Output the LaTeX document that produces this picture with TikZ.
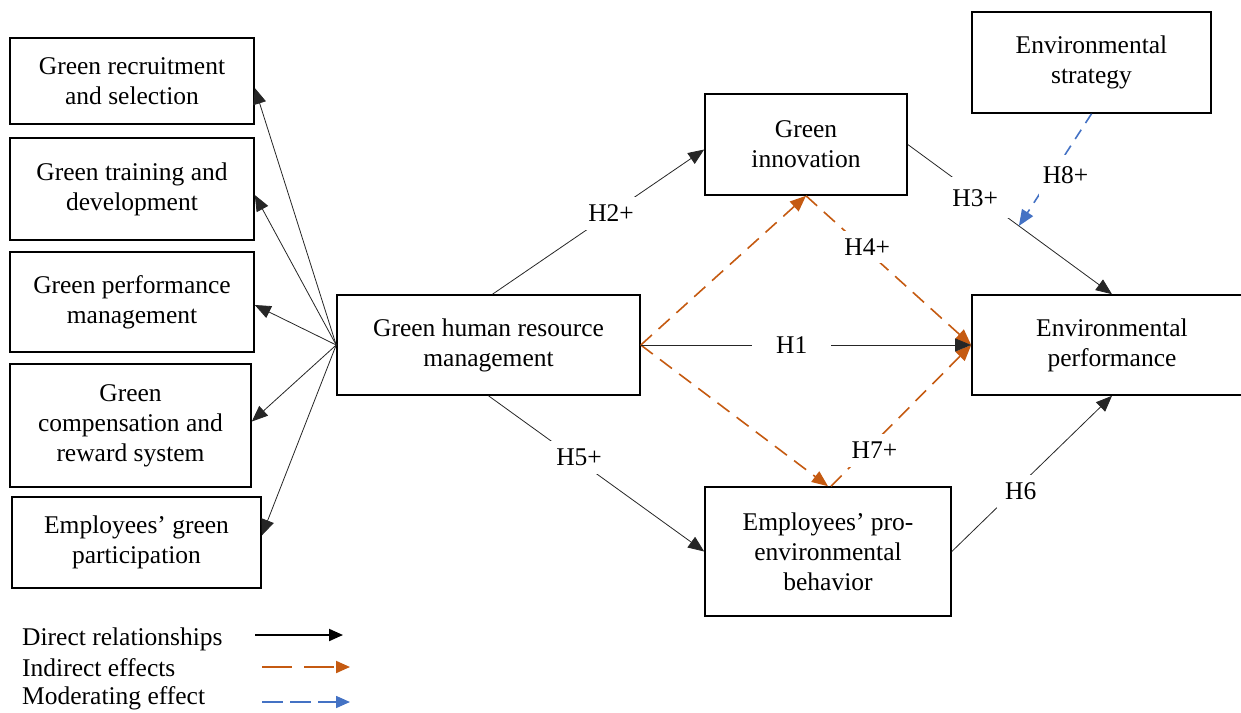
\documentclass[tikz,border=0pt]{standalone}
\usepackage{fontspec}
\setmainfont{Liberation Serif}
\usetikzlibrary{arrows.meta,calc}
\definecolor{orng}{HTML}{C55A11}
\definecolor{blu}{HTML}{4472C4}
\begin{document}
\begin{tikzpicture}[x=1pt,y=-1pt,
  font=\fontsize{25.5}{30}\selectfont,
  box/.style={draw,line width=1.6pt,align=center,inner sep=0pt},
  dirarr/.style={line width=0.8pt,draw=black!85,-{Triangle[length=16pt,width=13pt]}},
  indarr/.style={line width=1.6pt,draw=orng,dash pattern=on 15pt off 9pt,-{Triangle[length=16pt,width=13pt]}},
  modarr/.style={line width=1.6pt,draw=blu,dash pattern=on 11pt off 8pt,-{Triangle[length=16pt,width=13pt]}},
  lbl/.style={fill=white,inner xsep=8pt,inner ysep=8pt}]
\useasboundingbox (0,0) rectangle (1241,712);

% boxes
\node[box,minimum width=244pt,minimum height=86pt] (b1) at (132,81) {Green recruitment\\and selection};
\node[box,minimum width=244pt,minimum height=102pt] (b2) at (132,189) {Green training and\\development};
\node[box,minimum width=244pt,minimum height=100pt] (b3) at (132,302) {Green performance\\management};
\node[box,minimum width=241pt,minimum height=123pt] (b4) at (130.5,425.5) {Green\\compensation and\\reward system};
\node[box,minimum width=249pt,minimum height=91pt] (b5) at (136.5,542.5) {Employees’ green\\participation};
\node[box,minimum width=303pt,minimum height=100pt] (gh) at (488.5,345) {Green human resource\\management};
\node[box,minimum width=202pt,minimum height=101pt] (gi) at (806,144.5) {Green\\innovation};
\node[box,minimum width=239pt,minimum height=101pt] (es) at (1091.5,62.5) {Environmental\\strategy};
\node[box,minimum width=280pt,minimum height=100pt] (ep) at (1112,345) {Environmental\\performance};
\node[box,minimum width=246pt,minimum height=129pt] (eb) at (828,551.5) {Employees’ pro-\\environmental\\behavior};

% GHRM to dimensions
\draw[dirarr] (gh.west) -- ($(b1.east)+(0,7)$);
\draw[dirarr] (gh.west) -- ($(b2.east)+(0,6)$);
\draw[dirarr] (gh.west) -- ($(b3.east)+(0,3)$);
\draw[dirarr] (gh.west) -- ($(b4.east)+(0,-4)$);
\draw[dirarr] (gh.west) -- ($(b5.east)+(0,-7)$);

% indirect (orange dashed)
\draw[indarr] (gh.east) -- (gi.south);
\draw[indarr] (gh.east) -- (eb.north);
\draw[indarr] (gi.south) -- node[lbl,pos=0.37,yshift=4pt]{H4+} (ep.west);
\draw[indarr] ($(eb.north)+(3,0)$) -- node[lbl,pos=0.31,yshift=-8pt]{H7+} (ep.west);

% direct
\draw[dirarr] ($(gh.north)+(4,0)$) -- node[lbl,pos=0.56]{H2+} ($(gi.west)+(0,5)$);
\draw[dirarr] (gi.east) -- node[lbl,pos=0.33,yshift=-4pt,inner xsep=12pt,inner ysep=12pt]{H3+} coordinate[pos=0.544] (m) (ep.north);
\draw[dirarr] (gh.east) -- node[lbl,pos=0.457,inner xsep=24pt]{H1} (ep.west);
\draw[dirarr] (gh.south) -- node[lbl,pos=0.42,yshift=4pt]{H5+} (eb.west);
\draw[dirarr] (eb.east) -- node[lbl,pos=0.43,yshift=-7pt]{H6} (ep.south);

% moderating
\draw[modarr] (es.south) -- node[lbl,pos=0.55,xshift=14pt,inner xsep=4pt,inner ysep=12pt]{H8+} (m);

% legend
\node[anchor=west,inner sep=0pt] (l1) at (22,639) {Direct relationships};
\node[anchor=west,inner sep=0pt] (l2) at (22,668) {Indirect effects};
\node[anchor=west,inner sep=0pt] (l3) at (22,698) {Moderating effect};
\coordinate (l1a) at (255,635); \coordinate (l1b) at (343,635);
\coordinate (l2a) at (262,667); \coordinate (l2b) at (350,667);
\coordinate (l3a) at (262,702); \coordinate (l3b) at (350,702);
\draw[line width=2pt,-{Triangle[length=14pt,width=12pt]}] (l1a) -- (l1b);
\draw[line width=2pt,draw=orng,dash pattern=on 30pt off 12pt,-{Triangle[length=14pt,width=12pt]}] (l2a) -- (l2b);
\draw[line width=1.6pt,draw=blu,dash pattern=on 21pt off 7pt,-{Triangle[length=14pt,width=12pt]}] (l3a) -- (l3b);
\end{tikzpicture}
\end{document}
